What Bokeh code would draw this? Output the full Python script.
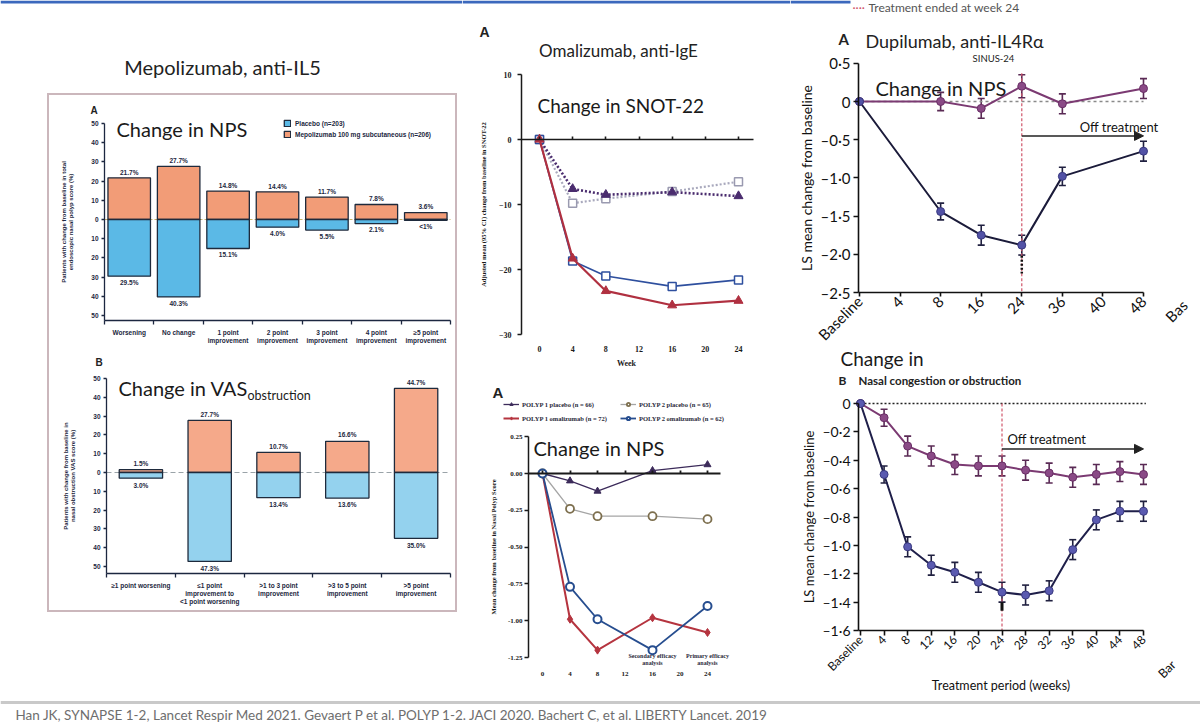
import math
from bokeh.plotting import figure
from bokeh.models import (Range1d, FixedTicker, Label, Legend, LegendItem, Whisker, TeeHead,
                          Arrow, NormalHead, LinearAxis, Spacer, ColumnDataSource, Span)
from bokeh.layouts import row, column
from bokeh.embed import file_html
from bokeh.resources import INLINE
from bokeh.core.properties import value

# ---------------- data ----------------
mepo_nps_categories = ["Worsening", "No change", "1 point\nimprovement", "2 point\nimprovement",
                       "3 point\nimprovement", "4 point\nimprovement", "≥5 point\nimprovement"]
mepo_nps_mepolizumab = [21.7, 27.7, 14.8, 14.4, 11.7, 7.8, 3.6]
mepo_nps_placebo = [29.5, 40.3, 15.1, 4.0, 5.5, 2.1, 0.5]

mepo_vas_categories = ["≥1 point worsening", "≤1 point\nimprovement to\n<1 point worsening",
                       ">1 to 3 point\nimprovement", ">3 to 5 point\nimprovement", ">5 point\nimprovement"]
mepo_vas_mepolizumab = [1.5, 27.7, 10.7, 16.6, 44.7]
mepo_vas_placebo = [3.0, 47.3, 13.4, 13.6, 35.0]

snot_week_ticks = [0, 4, 8, 12, 16, 20, 24]
snot_weeks = [0, 4, 8, 16, 24]
snot_polyp1_placebo = [0, -7.6, -8.5, -8.1, -8.7]
snot_polyp2_placebo = [0, -9.8, -9.1, -8.0, -6.5]
snot_polyp1_omalizumab = [0, -18.3, -23.3, -25.5, -24.8]
snot_polyp2_omalizumab = [0, -18.7, -21.0, -22.6, -21.6]

omal_week_ticks = [0, 4, 8, 12, 16, 20, 24]
omal_nps_weeks = [0, 4, 8, 16, 24]
omal_nps_polyp1_placebo = [0, -0.05, -0.12, 0.02, 0.06]
omal_nps_polyp2_placebo = [0, -0.24, -0.29, -0.29, -0.31]
omal_nps_polyp1_omalizumab = [0, -0.99, -1.20, -0.98, -1.08]
omal_nps_polyp2_omalizumab = [0, -0.77, -0.99, -1.20, -0.90]

dupi_nps_tick_labels = ["Baseline", "4", "8", "16", "24", "36", "40", "48"]
dupi_nps_visits = ["Baseline", "8", "16", "24", "36", "48"]
dupi_nps_placebo = [0, 0.00, -0.09, 0.20, -0.03, 0.17]
dupi_nps_placebo_err = [0, 0.12, 0.13, 0.15, 0.13, 0.13]
dupi_nps_dupilumab = [0, -1.44, -1.75, -1.88, -0.98, -0.65]
dupi_nps_dupilumab_err = [0, 0.11, 0.13, 0.13, 0.12, 0.13]

dupi_nc_weeks = [0, 4, 8, 12, 16, 20, 24, 28, 32, 36, 40, 44, 48]
dupi_nc_placebo = [0, -0.10, -0.30, -0.37, -0.43, -0.44, -0.44, -0.47, -0.49, -0.52, -0.50, -0.48, -0.50]
dupi_nc_dupilumab = [0, -0.50, -1.01, -1.14, -1.19, -1.26, -1.33, -1.35, -1.32, -1.03, -0.82, -0.76, -0.76]
dupi_nc_err = [0, 0.06, 0.07, 0.07, 0.07, 0.07, 0.07, 0.07, 0.07, 0.07, 0.07, 0.07, 0.07]

treatment_end_week = 24
followup_end_week = 48

footer_text = ("Han JK, SYNAPSE 1-2, Lancet Respir Med 2021.   Gevaert P et al. POLYP 1-2. JACI 2020.   "
               "Bachert C, et al. LIBERTY Lancet. 2019")

# ---------------- helpers ----------------
LATO = "Lato"
SANS = "Liberation Sans"
SERIF = "Liberation Serif"


class G:
    """Figure covering page box (X0, Y0, W, H); the frame fills the whole figure and
    axes are placed with fixed_location, so nothing is clipped away."""
    def __init__(self, X0, Y0, W, H, xm, ym):
        self.xm, self.ym = xm, ym
        self.fig = figure(width=W, height=H,
                          x_range=Range1d(self.dx(X0), self.dx(X0 + W)),
                          y_range=Range1d(self.dy(Y0 + H), self.dy(Y0)),
                          x_axis_type=None, y_axis_type=None,
                          output_backend="svg", toolbar_location=None,
                          min_border_left=0, min_border_right=0,
                          min_border_top=0, min_border_bottom=0)
        self.fig.outline_line_color = None
        self.fig.background_fill_color = "white"
        self.fig.border_fill_color = "white"
        self.X0, self.Y0, self.W, self.H = X0, Y0, W, H

    def dx(self, px):
        a, pa, b, pb = self.xm
        return a + (px - pa) * (b - a) / (pb - pa)

    def dy(self, py):
        a, pa, b, pb = self.ym
        return a + (py - pa) * (b - a) / (pb - pa)

    def label(self, px, py, text, size, font=LATO, bold=False, color="#1a1a1a",
              align="left", baseline="middle"):
        lab = Label(x=self.dx(px), y=self.dy(py), text=text, text_font=font,
                    text_font_size=f"{size}px", text_font_style="bold" if bold else "normal",
                    text_color=color, text_align=align, text_baseline=baseline)
        self.fig.add_layout(lab)
        return lab

    def rot_text(self, px, py, text, size, color="#111111"):
        self.fig.text(x=[self.dx(px)], y=[self.dy(py)], text=[text], angle=math.pi / 4,
                      text_align="right", text_baseline="middle", text_font=value(LATO),
                      text_font_size=f"{size}px", text_color=color)

    def stripe(self, px0, px1, py, color="#3b68bd", width=3):
        self.fig.segment(x0=[self.dx(px0)], y0=[self.dy(py)], x1=[self.dx(px1)], y1=[self.dy(py)],
                         line_color=color, line_width=width)

    def legend_loc(self, px_left, py_bottom):
        return (px_left - self.X0, self.Y0 + self.H - py_bottom)


def style_axis(ax, font, size, color="#111111", bold=False, lw=1.3,
               title_font=None, title_size=None, title_bold=False):
    ax.major_label_text_font = font
    ax.major_label_text_font_size = f"{size}px"
    ax.major_label_text_font_style = "bold" if bold else "normal"
    ax.major_label_text_color = color
    ax.axis_line_color = color
    ax.axis_line_width = lw
    ax.major_tick_line_color = color
    ax.major_tick_line_width = lw
    ax.minor_tick_line_color = color
    ax.minor_tick_line_width = lw
    ax.axis_label_text_font = title_font or font
    ax.axis_label_text_font_size = f"{title_size or size}px"
    ax.axis_label_text_font_style = "bold" if title_bold else "normal"
    ax.axis_label_text_color = color


def pct(v):
    return "<1%" if v < 1 else f"{v:.1f}%"


def dotfmt(t, nd=1):
    if t == 0:
        return "0"
    s = f"{abs(t):.{nd}f}".replace(".", "·")
    return ("–" if t < 0 else "") + s


ORANGE = "#F29C77"
BLUE = "#5BB9E6"
VAS_ORANGE = "#F5A98A"
VAS_BLUE = "#94D2EE"
BAR_EDGE = "#1e2a3c"
NAVY_TXT = "#1c2740"

# ---------------- Mepolizumab title ----------------
gt = G(0, 0, 462, 95, (0, 0, 1, 1), (0, 0, -1, 1))
gt.stripe(0, 462, 1.5)
gt.label(222, 66, "Mepolizumab, anti-IL5", 20, color="#222222", align="center")

# ---------------- Fig 1: Mepolizumab NPS ----------------
g1 = G(49, 95, 406, 257, (0, 104, 7, 450), (0, 219, 50, 123))
p1 = g1.fig
n1 = len(mepo_nps_categories)
x1 = [i + 0.5 for i in range(n1)]
yt1 = list(range(-50, 51, 10))
xaxis_y1 = g1.dy(320)
yax1 = LinearAxis(ticker=FixedTicker(ticks=yt1), bounds=(xaxis_y1, 50), fixed_location=0,
                  major_label_overrides={t: str(abs(t)) for t in yt1},
                  axis_label="Patients with change from baseline in total\nendoscopic nasal polyp score (%)",
                  major_tick_out=3, major_tick_in=0, major_label_standoff=3, axis_label_standoff=14)
style_axis(yax1, SANS, 6.5, color=NAVY_TXT, bold=True, title_size=6, title_bold=True)
p1.add_layout(yax1, "left")
xax1 = LinearAxis(ticker=FixedTicker(ticks=x1, minor_ticks=list(range(n1 + 1))), bounds=(0, n1),
                  fixed_location=xaxis_y1,
                  major_label_overrides={x: c for x, c in zip(x1, mepo_nps_categories)},
                  major_tick_out=0, major_tick_in=0, minor_tick_out=4, minor_tick_in=0,
                  major_label_standoff=4)
style_axis(xax1, SANS, 6.5, color=NAVY_TXT, bold=True)
p1.add_layout(xax1, "below")
p1.segment(x0=[0], y0=[0], x1=[n1], y1=[0], line_color="#cdb36a", line_width=1, line_dash="3 2")
r_mepo = p1.vbar(x=x1, top=mepo_nps_mepolizumab, bottom=0, width=0.86,
                 fill_color=ORANGE, line_color=BAR_EDGE, line_width=1.3)
r_plac = p1.vbar(x=x1, top=0, bottom=[-v for v in mepo_nps_placebo], width=0.86,
                 fill_color=BLUE, line_color=BAR_EDGE, line_width=1.3)
p1.text(x=x1, y=[v + 1.2 for v in mepo_nps_mepolizumab], text=[pct(v) for v in mepo_nps_mepolizumab],
        text_font=value(SANS), text_font_size="6.5px", text_font_style="bold", text_color=NAVY_TXT,
        text_align="center", text_baseline="bottom")
p1.text(x=x1, y=[-v - 1.5 for v in mepo_nps_placebo], text=[pct(v) for v in mepo_nps_placebo],
        text_font=value(SANS), text_font_size="6.5px", text_font_style="bold", text_color=NAVY_TXT,
        text_align="center", text_baseline="top")
leg1 = Legend(items=[LegendItem(label="Placebo (n=203)", renderers=[r_plac]),
                     LegendItem(label="Mepolizumab 100 mg subcutaneous (n=206)", renderers=[r_mepo])],
              location=g1.legend_loc(283, 138), orientation="vertical", padding=0, margin=0, spacing=3,
              glyph_width=8, glyph_height=8, label_height=8, label_standoff=4,
              label_text_font=SANS, label_text_font_size="6.5px", label_text_font_style="bold",
              label_text_color=NAVY_TXT, border_line_alpha=0, background_fill_alpha=0)
p1.add_layout(leg1)
g1.label(90, 110, "A", 10, font=SANS, bold=True, color="#222")
g1.label(116, 128, "Change in NPS", 20, color="#1a1a1a")

# ---------------- Fig 2: Mepolizumab VAS ----------------
g2 = G(49, 352, 406, 258, (0, 106, 5, 450), (0, 472, 50, 378))
p2 = g2.fig
n2 = len(mepo_vas_categories)
x2 = [i + 0.5 for i in range(n2)]
xaxis_y2 = g2.dy(573)
yax2 = LinearAxis(ticker=FixedTicker(ticks=yt1), bounds=(xaxis_y2, 50), fixed_location=0,
                  major_label_overrides={t: str(abs(t)) for t in yt1},
                  axis_label="Patients with change from baseline in\nnasal obstruction VAS score (%)",
                  major_tick_out=3, major_tick_in=0, major_label_standoff=3, axis_label_standoff=14)
style_axis(yax2, SANS, 6.5, color=NAVY_TXT, bold=True, title_size=6, title_bold=True)
p2.add_layout(yax2, "left")
xax2 = LinearAxis(ticker=FixedTicker(ticks=x2, minor_ticks=list(range(n2 + 1))), bounds=(0, n2),
                  fixed_location=xaxis_y2,
                  major_label_overrides={x: c for x, c in zip(x2, mepo_vas_categories)},
                  major_tick_out=0, major_tick_in=0, minor_tick_out=4, minor_tick_in=0,
                  major_label_standoff=4)
style_axis(xax2, SANS, 6.5, color=NAVY_TXT, bold=True)
p2.add_layout(xax2, "below")
p2.segment(x0=[0], y0=[0], x1=[n2], y1=[0], line_color="#9aa3a8", line_width=1.2, line_dash="5 3")
p2.vbar(x=x2, top=mepo_vas_mepolizumab, bottom=0, width=0.63,
        fill_color=VAS_ORANGE, line_color=BAR_EDGE, line_width=1.3)
p2.vbar(x=x2, top=0, bottom=[-v for v in mepo_vas_placebo], width=0.63,
        fill_color=VAS_BLUE, line_color=BAR_EDGE, line_width=1.3)
p2.text(x=x2, y=[v + 1.5 for v in mepo_vas_mepolizumab], text=[pct(v) for v in mepo_vas_mepolizumab],
        text_font=value(SANS), text_font_size="6.5px", text_font_style="bold", text_color=NAVY_TXT,
        text_align="center", text_baseline="bottom")
p2.text(x=x2, y=[-v - 1.8 for v in mepo_vas_placebo], text=[pct(v) for v in mepo_vas_placebo],
        text_font=value(SANS), text_font_size="6.5px", text_font_style="bold", text_color=NAVY_TXT,
        text_align="center", text_baseline="top")
g2.label(95, 362, "B", 10, font=SANS, bold=True, color="#222")
g2.label(118, 387, "Change in VAS", 20, color="#1a1a1a")
g2.label(247, 395, "obstruction", 12.5, color="#1a1a1a")

box_col = column(p1, p2, styles={"outline": "2px solid #cbb7bc"})
colA = column(gt.fig,
              row(Spacer(width=49, height=515), box_col, Spacer(width=7, height=515)),
              Spacer(width=462, height=87))

# ---------------- Fig 3: Omalizumab SNOT-22 ----------------
g3 = G(462, 0, 328, 378, (0, 539, 24, 738), (0, 139, -30, 334))
p3 = g3.fig
g3.stripe(462, 790, 1.5)
yt3 = [-30, -20, -10, 0, 10]
yax3 = LinearAxis(ticker=FixedTicker(ticks=yt3), bounds=(-30, 10), fixed_location=g3.dx(521),
                  axis_label="Adjusted mean (95% CI) change from baseline in SNOT-22",
                  major_tick_out=4, major_tick_in=0, major_label_standoff=6, axis_label_standoff=9)
style_axis(yax3, SERIF, 8, color="#1a1a1a", bold=True, lw=1.5, title_size=6.5, title_bold=True)
p3.add_layout(yax3, "left")
xlab3 = LinearAxis(ticker=FixedTicker(ticks=snot_week_ticks), axis_label="Week", fixed_location=-30,
                   major_tick_out=0, major_tick_in=0, major_label_standoff=11, axis_label_standoff=4)
style_axis(xlab3, SERIF, 8, color="#1a1a1a", bold=True, title_bold=True)
xlab3.axis_line_color = None
p3.add_layout(xlab3, "below")
zax3 = LinearAxis(ticker=FixedTicker(ticks=snot_week_ticks), fixed_location=0,
                  bounds=(g3.dx(521), snot_weeks[-1] + 1.8),
                  major_label_overrides={t: "" for t in snot_week_ticks},
                  major_tick_out=0, major_tick_in=3)
style_axis(zax3, SERIF, 8, color="#1a1a1a", lw=1.6)
p3.add_layout(zax3, "below")
p3.line(snot_weeks, snot_polyp2_placebo, line_color="#a9a9bd", line_width=2.2, line_dash="2 2")
p3.scatter(snot_weeks, snot_polyp2_placebo, marker="square", size=8, fill_color="white",
           line_color="#9a9ab0", line_width=1.5)
p3.line(snot_weeks, snot_polyp1_placebo, line_color="#4a2c6e", line_width=2.6, line_dash="2 2")
p3.scatter(snot_weeks, snot_polyp1_placebo, marker="triangle", size=9, fill_color="#4a2c6e",
           line_color="#4a2c6e")
p3.line(snot_weeks, snot_polyp2_omalizumab, line_color="#2e4f9e", line_width=1.6)
p3.scatter(snot_weeks, snot_polyp2_omalizumab, marker="square", size=8, fill_color="white",
           line_color="#2e4f9e", line_width=1.5)
p3.line(snot_weeks, snot_polyp1_omalizumab, line_color="#b03040", line_width=2.2)
p3.scatter(snot_weeks, snot_polyp1_omalizumab, marker="triangle", size=9, fill_color="#b03040",
           line_color="#b03040")
g3.label(479, 31, "A", 14, font=SANS, bold=True, color="#222")
g3.label(618, 50, "Omalizumab, anti-IgE", 17, color="#222222", align="center")
g3.label(537, 105, "Change in SNOT-22", 19, color="#1a1a1a")

# ---------------- Fig 4: Omalizumab NPS ----------------
g4 = G(462, 378, 328, 319, (0, 542, 24, 707), (0, 473, -1.25, 657))
p4 = g4.fig
yt4 = [-1.25, -1.0, -0.75, -0.5, -0.25, 0.0, 0.25]
yax4 = LinearAxis(ticker=FixedTicker(ticks=yt4), bounds=(-1.25, 0.25), fixed_location=g4.dx(528),
                  major_label_overrides={t: f"{t:.2f}" for t in yt4},
                  axis_label="Mean change from baseline in Nasal Polyp Score",
                  major_tick_out=4, major_tick_in=0, major_label_standoff=2, axis_label_standoff=8)
style_axis(yax4, SERIF, 7, color="#1a1a1a", bold=True, lw=1.5, title_size=6.5, title_bold=True)
p4.add_layout(yax4, "left")
xlab4 = LinearAxis(ticker=FixedTicker(ticks=omal_week_ticks), fixed_location=-1.25,
                   major_tick_out=0, major_tick_in=0, major_label_standoff=14)
style_axis(xlab4, SERIF, 7, color="#1a1a1a", bold=True)
xlab4.axis_line_color = None
p4.add_layout(xlab4, "below")
zax4 = LinearAxis(ticker=FixedTicker(ticks=omal_week_ticks), fixed_location=0,
                  bounds=(g4.dx(528), omal_nps_weeks[-1] + 1.9),
                  major_label_overrides={t: "" for t in omal_week_ticks},
                  major_tick_out=0, major_tick_in=3)
style_axis(zax4, SERIF, 7, color="#1a1a1a", lw=1.8)
p4.add_layout(zax4, "below")
l41 = p4.line(omal_nps_weeks, omal_nps_polyp1_placebo, line_color="#3c2b5a", line_width=1.3)
m41 = p4.scatter(omal_nps_weeks, omal_nps_polyp1_placebo, marker="triangle", size=7,
                 fill_color="#3c2b5a", line_color="#3c2b5a")
l42 = p4.line(omal_nps_weeks, omal_nps_polyp2_placebo, line_color="#a5a5a5", line_width=1.3)
m42 = p4.scatter(omal_nps_weeks, omal_nps_polyp2_placebo, marker="circle", size=8,
                 fill_color="white", line_color="#7d6f4e", line_width=1.8)
l43 = p4.line(omal_nps_weeks, omal_nps_polyp1_omalizumab, line_color="#b5343f", line_width=2)
m43 = p4.scatter(omal_nps_weeks, omal_nps_polyp1_omalizumab, marker="diamond", size=8,
                 fill_color="#b5343f", line_color="#b5343f")
l44 = p4.line(omal_nps_weeks, omal_nps_polyp2_omalizumab, line_color="#264d8f", line_width=1.8)
m44 = p4.scatter(omal_nps_weeks, omal_nps_polyp2_omalizumab, marker="circle", size=8,
                 fill_color="white", line_color="#264d8f", line_width=2)
leg_kw = dict(orientation="horizontal", padding=0, margin=0, spacing=3, glyph_width=16,
              glyph_height=8, label_height=8, label_width=95, label_standoff=3,
              label_text_font=SERIF, label_text_font_size="6.5px", label_text_font_style="bold",
              label_text_color="#2a2a3a", border_line_alpha=0, background_fill_alpha=0)
leg4a = Legend(items=[LegendItem(label="POLYP 1 placebo (n = 66)", renderers=[l41, m41]),
                      LegendItem(label="POLYP 2 placebo (n = 65)", renderers=[l42, m42])],
               location=g4.legend_loc(503, 408), **leg_kw)
leg4b = Legend(items=[LegendItem(label="POLYP 1 omalizumab (n = 72)", renderers=[l43, m43]),
                      LegendItem(label="POLYP 2 omalizumab (n = 62)", renderers=[l44, m44])],
               location=g4.legend_loc(503, 422), **leg_kw)
p4.add_layout(leg4a)
p4.add_layout(leg4b)
g4.label(492, 392, "A", 15, font=SANS, bold=True, color="#222")
g4.label(533, 447, "Change in NPS", 20, color="#1a1a1a")
for wk, txt in ((omal_nps_weeks[3], "Secondary efficacy\nanalysis"), (omal_nps_weeks[4], "Primary efficacy\nanalysis")):
    p4.add_layout(Label(x=wk, y=g4.dy(659), text=txt, text_font=SERIF, text_font_size="6px",
                        text_font_style="bold", text_color="#2a2a3a", text_align="center",
                        text_baseline="middle"))

colB = column(p3, p4)

# ---------------- Fig 5: Dupilumab NPS ----------------
g5 = G(790, 0, 410, 348, (0, 859, 7, 1143), (0, 101, -2.5, 292))
p5 = g5.fig
g5.stripe(790, 850, 1.5)
xi5 = list(range(len(dupi_nps_tick_labels)))
yt5 = [-2.5, -2.0, -1.5, -1.0, -0.5, 0.0, 0.5]
yax5 = LinearAxis(ticker=FixedTicker(ticks=yt5), bounds=(-2.5, 0.5), fixed_location=g5.dx(858),
                  major_label_overrides={t: dotfmt(t) for t in yt5},
                  axis_label="LS mean change from baseline",
                  major_tick_out=5, major_tick_in=0, major_label_standoff=3, axis_label_standoff=3)
style_axis(yax5, LATO, 15, color="#111111", lw=1.6, title_size=14)
p5.add_layout(yax5, "left")
xax5 = LinearAxis(ticker=FixedTicker(ticks=xi5), bounds=(g5.dx(858), xi5[-1]), fixed_location=-2.5,
                  major_label_overrides={i: s for i, s in zip(xi5, dupi_nps_tick_labels)},
                  major_label_orientation=math.pi / 4,
                  major_tick_out=4, major_tick_in=0, major_label_standoff=2)
style_axis(xax5, LATO, 15, color="#111111", lw=1.6)
p5.add_layout(xax5, "below")
x5 = [dupi_nps_tick_labels.index(v) for v in dupi_nps_visits]
i_end5 = dupi_nps_tick_labels.index(str(treatment_end_week))
i_fu5 = dupi_nps_tick_labels.index(str(followup_end_week))
p5.line([x5[0], x5[-1]], [0, 0], line_color="#8a8a8a", line_width=1.3, line_dash="3 3")
p5.segment(x0=[i_end5], y0=[0.37], x1=[i_end5], y1=[-2.5], line_color="#d0566a", line_width=1.2,
           line_dash="3 2")
p5.segment(x0=[i_end5], y0=[-2.02], x1=[i_end5], y1=[-2.25], line_color="#111111", line_width=2.5,
           line_dash="2 2")
p5.line(x5, dupi_nps_placebo, line_color="#7b3a72", line_width=2)
p5.line(x5, dupi_nps_dupilumab, line_color="#1b1b3a", line_width=2)
for ys, es, col in ((dupi_nps_placebo, dupi_nps_placebo_err, "#5a2a55"),
                    (dupi_nps_dupilumab, dupi_nps_dupilumab_err, "#202040")):
    pts = [(x, y, e) for x, y, e in zip(x5, ys, es) if e > 0]
    src = ColumnDataSource(dict(x=[p[0] for p in pts], u=[p[1] + p[2] for p in pts],
                                l=[p[1] - p[2] for p in pts]))
    p5.add_layout(Whisker(source=src, base="x", upper="u", lower="l", dimension="height",
                          line_color=col, line_width=1.6,
                          upper_head=TeeHead(size=7, line_color=col, line_width=1.6),
                          lower_head=TeeHead(size=7, line_color=col, line_width=1.6)))
p5.scatter(x5, dupi_nps_placebo, marker="circle", size=8, fill_color="#8a4a86", line_color="#6a2f66")
p5.scatter(x5, dupi_nps_dupilumab, marker="circle", size=8, fill_color="#5252a6", line_color="#3a3a80")
p5.add_layout(Arrow(end=NormalHead(size=9, fill_color="#222222", line_color="#222222"),
                    x_start=i_end5, y_start=-0.45, x_end=i_fu5, y_end=-0.45,
                    line_color="#222222", line_width=1.5))
g5.label(1158, 126, "Off treatment", 13, align="right", color="#111111")
g5.label(993, 58, "SINUS-24", 9.5, align="center", color="#222222")
g5.label(875, 87, "Change in NPS", 20, color="#1a1a1a")
g5.label(838, 38, "A", 15, bold=True, color="#222")
g5.label(865, 40, "Dupilumab, anti-IL4Rα", 18, color="#222222")
g5.label(852, 7, "····", 12, color="#d0566a")
g5.label(868, 7, "Treatment ended at week 24", 12, color="#555555")
g5.rot_text(1184, 302, "Bas", 15)

# ---------------- Fig 6: Dupilumab nasal congestion ----------------
g6 = G(790, 348, 410, 349, (0, 860, 48, 1143), (0, 403, -1.6, 630))
p6 = g6.fig
yt6 = [-1.6, -1.4, -1.2, -1.0, -0.8, -0.6, -0.4, -0.2, 0.0]
yax6 = LinearAxis(ticker=FixedTicker(ticks=yt6), bounds=(-1.6, 0), fixed_location=g6.dx(858),
                  major_label_overrides={t: dotfmt(t) for t in yt6},
                  axis_label="LS mean change from baseline",
                  major_tick_out=5, major_tick_in=0, major_label_standoff=3, axis_label_standoff=3)
style_axis(yax6, LATO, 14, color="#111111", lw=1.6, title_size=13)
p6.add_layout(yax6, "left")
xax6 = LinearAxis(ticker=FixedTicker(ticks=dupi_nc_weeks), bounds=(g6.dx(858), dupi_nc_weeks[-1]),
                  fixed_location=-1.6,
                  major_label_overrides={w: ("Baseline" if w == 0 else str(w)) for w in dupi_nc_weeks},
                  major_label_orientation=math.pi / 4, axis_label="Treatment period (weeks)",
                  major_tick_out=5, major_tick_in=0, major_label_standoff=2, axis_label_standoff=-4)
style_axis(xax6, LATO, 12, color="#111111", lw=1.6, title_size=12.5)
p6.add_layout(xax6, "below")
p6.line([dupi_nc_weeks[0], dupi_nc_weeks[-1] + 0.4], [0, 0], line_color="#222222", line_width=1.3,
        line_dash="2 2")
p6.segment(x0=[treatment_end_week], y0=[0], x1=[treatment_end_week], y1=[-1.6], line_color="#d0566a",
           line_width=1.2, line_dash="3 2")
p6.segment(x0=[treatment_end_week], y0=[-1.40], x1=[treatment_end_week], y1=[-1.46],
           line_color="#111111", line_width=3)
p6.line(dupi_nc_weeks, dupi_nc_placebo, line_color="#7b3a72", line_width=2)
p6.line(dupi_nc_weeks, dupi_nc_dupilumab, line_color="#1f1f4a", line_width=2)
for ys, col in ((dupi_nc_placebo, "#5a2a55"), (dupi_nc_dupilumab, "#202040")):
    pts = [(x, y, e) for x, y, e in zip(dupi_nc_weeks, ys, dupi_nc_err) if e > 0]
    src = ColumnDataSource(dict(x=[p[0] for p in pts], u=[p[1] + p[2] for p in pts],
                                l=[p[1] - p[2] for p in pts]))
    p6.add_layout(Whisker(source=src, base="x", upper="u", lower="l", dimension="height",
                          line_color=col, line_width=1.6,
                          upper_head=TeeHead(size=7, line_color=col, line_width=1.6),
                          lower_head=TeeHead(size=7, line_color=col, line_width=1.6)))
p6.scatter(dupi_nc_weeks, dupi_nc_placebo, marker="circle", size=8, fill_color="#8a4a86",
           line_color="#6a2f66")
p6.scatter(dupi_nc_weeks, dupi_nc_dupilumab, marker="circle", size=8, fill_color="#5a5ab0",
           line_color="#3a3a80")
p6.add_layout(Arrow(end=NormalHead(size=9, fill_color="#222222", line_color="#222222"),
                    x_start=treatment_end_week, y_start=-0.32, x_end=followup_end_week, y_end=-0.32,
                    line_color="#222222", line_width=1.5))
g6.label(1007, 438, "Off treatment", 13, color="#111111")
g6.label(840, 358, "Change in", 19, color="#1a1a1a")
g6.label(838, 380, "B", 12, bold=True, color="#222")
g6.label(858, 380, "Nasal congestion or obstruction", 11.5, bold=True, color="#222222")
g6.rot_text(1173, 662, "Bar", 12.5)

colC = column(p5, p6)

# ---------------- footer ----------------
gf = G(0, 697, 1200, 28, (0, 0, 1, 1), (0, 0, -1, 1))
gf.fig.add_layout(Span(location=gf.dy(702), dimension="width", line_color="#c9c9c9", line_width=3))
gf.label(15, 714, footer_text, 13.5, color="#6e6e6e")

layout = column(row(colA, colB, colC), gf.fig)

open("out.html", "w").write(file_html(layout, INLINE))
